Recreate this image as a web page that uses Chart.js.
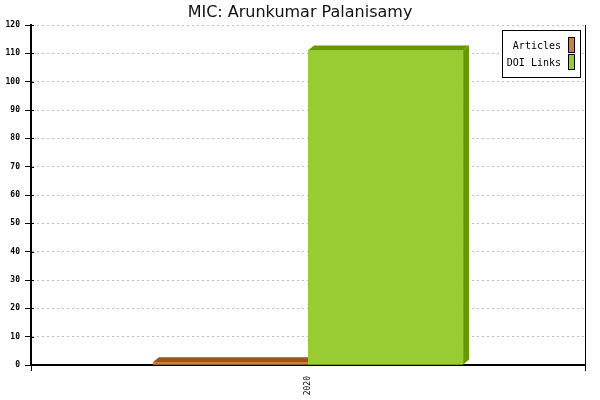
<!DOCTYPE html>
<html>
<head>
<meta charset="utf-8">
<script src="https://cdn.jsdelivr.net/npm/chart.js@4/dist/chart.umd.min.js"></script>
<style>
  html, body { margin: 0; padding: 0; background: #fff; }
  #wrap { width: 600px; height: 400px; }
</style>
</head>
<body>
<div id="wrap"><canvas id="chart"></canvas></div>
<script>
// chart data
const title = "MIC: Arunkumar Palanisamy";
const years = ["2020"];
const articles = [1];
const doiLinks = [111];
const seriesNames = ["Articles", "DOI Links"];
const yTicksMax = 120;
const yTicksStep = 10;

const faceColors = ["#cd7f3f", "#99cc33"];
const darkColors = ["#9a5518", "#669900"];

// draws the title text
const titlePlugin = {
  id: "titleText",
  afterDraw(chart) {
    const ctx = chart.ctx;
    ctx.save();
    ctx.font = "16px 'DejaVu Sans'";
    ctx.fillStyle = "#111";
    ctx.textAlign = "center";
    ctx.textBaseline = "alphabetic";
    ctx.fillText(title, chart.width / 2, 17);
    ctx.restore();
  }
};

// y tick marks also poke a little into the plot
const innerTicks = {
  id: "innerTicks",
  afterDraw(chart) {
    const ctx = chart.ctx;
    const y = chart.scales.y;
    const left = chart.chartArea.left;
    ctx.save();
    ctx.strokeStyle = "#000";
    ctx.lineWidth = 1;
    y.ticks.forEach(t => {
      const py = Math.round(y.getPixelForValue(t.value)) + 0.5;
      ctx.beginPath();
      ctx.moveTo(left, py);
      ctx.lineTo(left + 3, py);
      ctx.stroke();
    });
    ctx.restore();
  }
};

// fake 3d: redraw each bar face with a top and right side
const bars3d = {
  id: "bars3d",
  afterDatasetsDraw(chart) {
    const ctx = chart.ctx;
    const dx = 6, dy = 5;
    ctx.save();
    chart.data.datasets.forEach((ds, i) => {
      const meta = chart.getDatasetMeta(i);
      meta.data.forEach(bar => {
        const left = bar.x - bar.width / 2;
        const right = bar.x + bar.width / 2;
        const top = bar.y;
        const base = bar.base;
        ctx.fillStyle = darkColors[i];
        // top
        ctx.beginPath();
        ctx.moveTo(left, top);
        ctx.lineTo(left + dx, top - dy);
        ctx.lineTo(right + dx, top - dy);
        ctx.lineTo(right, top);
        ctx.closePath();
        ctx.fill();
        // side
        ctx.beginPath();
        ctx.moveTo(right, top);
        ctx.lineTo(right + dx, top - dy);
        ctx.lineTo(right + dx, base - dy);
        ctx.lineTo(right, base);
        ctx.closePath();
        ctx.fill();
        // face
        ctx.fillStyle = faceColors[i];
        ctx.fillRect(left, top, right - left, base - top);
      });
    });
    ctx.restore();
  }
};

// boxed legend, text on the left and swatch on the right
const boxLegend = {
  id: "boxLegend",
  afterDraw(chart) {
    const ctx = chart.ctx;
    ctx.save();
    ctx.fillStyle = "#fff";
    ctx.fillRect(502, 30, 78, 47);
    ctx.strokeStyle = "#000";
    ctx.lineWidth = 1;
    ctx.strokeRect(502.5, 30.5, 78, 47);
    ctx.font = "10px 'DejaVu Sans Mono'";
    ctx.textAlign = "right";
    ctx.textBaseline = "alphabetic";
    seriesNames.forEach((name, i) => {
      const y = 37 + i * 17;
      ctx.fillStyle = "#000";
      ctx.fillText(name, 561, y + 12);
      ctx.fillStyle = faceColors[i];
      ctx.fillRect(568, y, 6, 15);
      ctx.strokeRect(568.5, y + 0.5, 6, 15);
    });
    ctx.restore();
  }
};

new Chart(document.getElementById("chart"), {
  type: "bar",
  data: {
    labels: years,
    datasets: [
      { label: seriesNames[0], data: articles, backgroundColor: faceColors[0] },
      { label: seriesNames[1], data: doiLinks, backgroundColor: faceColors[1] }
    ]
  },
  options: {
    responsive: true,
    maintainAspectRatio: false,
    animation: false,
    events: [],
    layout: { padding: { top: 25, right: 15, left: 0, bottom: 0 } },
    datasets: {
      bar: { categoryPercentage: 0.56, barPercentage: 1 }
    },
    plugins: {
      legend: { display: false },
      title: { display: false },
      tooltip: { enabled: false }
    },
    scales: {
      x: {
        offset: true,
        grid: {
          offset: true,
          color: "#000",
          lineWidth: 1,
          drawOnChartArea: true,
          tickLength: 6,
          tickColor: "#000"
        },
        border: { display: true, color: "#000", width: 2 },
        ticks: {
          minRotation: 90,
          maxRotation: 90,
          padding: 5,
          color: "#000",
          font: { family: "'DejaVu Sans Mono'", size: 8 }
        },
        afterFit(scale) { scale.height = 35; }
      },
      y: {
        min: 0,
        max: yTicksMax,
        ticks: {
          stepSize: yTicksStep,
          padding: 5,
          color: "#000",
          font: { family: "'DejaVu Sans Mono'", size: 8, weight: "bold" }
        },
        grid: {
          color: "#c0c0c0",
          lineWidth: 1,
          tickLength: 6,
          tickColor: "#000",
          tickBorderDash: [1, 0]
        },
        border: { display: true, color: "#000", width: 2, dash: [2, 3] },
        afterFit(scale) { scale.width = 31; }
      }
    }
  },
  plugins: [bars3d, innerTicks, titlePlugin, boxLegend]
});
</script>
</body>
</html>
